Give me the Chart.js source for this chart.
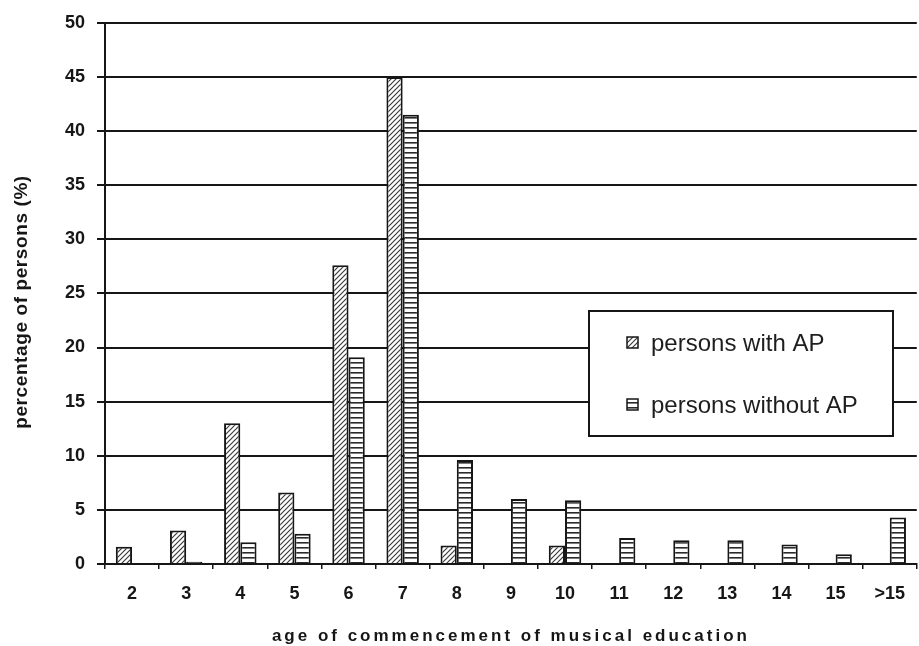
<!DOCTYPE html>
<html>
<head>
<meta charset="utf-8">
<script src="https://cdn.jsdelivr.net/npm/chart.js@4.4.1/dist/chart.umd.min.js"></script>
<style>
    html, body { margin: 0; padding: 0; background: #fff; }
    #wrap { width: 919px; height: 646px; position: relative; }
</style>
</head>
<body>
<div id="wrap"><canvas id="chart"></canvas></div>
<script>
/* AP study: age when musical education started */

const AGES = ["2", "3", "4", "5", "6", "7", "8", "9", "10", "11", "12", "13", "14", "15", ">15"];
const WITH_AP = [1.6, 3.1, 13.0, 6.6, 27.6, 45.0, 1.7, 0, 1.7, 0, 0, 0, 0, 0, 0];
const WITHOUT_AP = [0, 0.2, 2.0, 2.8, 19.1, 41.5, 9.6, 6.0, 5.9, 2.4, 2.2, 2.2, 1.8, 0.9, 4.3];
const Y_TICKS = [0, 5, 10, 15, 20, 25, 30, 35, 40, 45, 50];
const SERIES_NAMES = ["persons with AP", "persons without AP"];
const X_TITLE = "age of commencement of musical education";
const Y_TITLE = "percentage of persons (%)";

const INK = "#161616";
const FONT = "Arial, 'Liberation Sans', sans-serif";

function diagonalPattern() {
    const c = document.createElement("canvas");
    c.width = 5; c.height = 5;
    const g = c.getContext("2d");
    g.fillStyle = "#fff";
    g.fillRect(0, 0, 5, 5);
    g.strokeStyle = "#3c3c3c";
    g.lineWidth = 1.2;
    g.beginPath();
    g.moveTo(-1, 6); g.lineTo(6, -1);
    g.moveTo(-1, 1); g.lineTo(1, -1);
    g.moveTo(4, 6); g.lineTo(6, 4);
    g.stroke();
    return g.createPattern(c, "repeat");
}

function stripePattern() {
    const c = document.createElement("canvas");
    c.width = 6; c.height = 5;
    const g = c.getContext("2d");
    g.fillStyle = "#fff";
    g.fillRect(0, 0, 6, 5);
    g.fillStyle = "#2a2a2a";
    g.fillRect(0, 2, 6, 1.6);
    return g.createPattern(c, "repeat");
}

const FILLS = [diagonalPattern(), stripePattern()];

const boxLegend = {
    id: "boxLegend",
    afterDraw(chart) {
        const ctx = chart.ctx;
        const area = chart.chartArea;
        ctx.save();
        // legend frame
        ctx.fillStyle = "#fff";
        ctx.fillRect(589, 311, 304, 125);
        ctx.strokeStyle = INK;
        ctx.lineWidth = 2;
        ctx.strokeRect(589, 311, 304, 125);
        const rows = [343, 405];
        chart.data.datasets.forEach(function(ds, i) {
            const y = rows[i];
            ctx.fillStyle = ds.backgroundColor;
            ctx.fillRect(627, y - 6, 11, 11);
            ctx.lineWidth = 1.5;
            ctx.strokeStyle = INK;
            ctx.strokeRect(627, y - 6, 11, 11);
            ctx.fillStyle = "#1e1e1e";
            ctx.font = "24px " + FONT;
            ctx.textBaseline = "middle";
            ctx.textAlign = "left";
            ctx.fillText(ds.label, 651, y + 1);
        });
        // axis titles, spaced out like the original
        ctx.fillStyle = INK;
        ctx.textAlign = "center";
        ctx.textBaseline = "middle";
        ctx.font = "bold 17px " + FONT;
        ctx.letterSpacing = "3px";
        ctx.fillText(X_TITLE, (area.left + area.right) / 2, 636);
        ctx.translate(22, 302);
        ctx.rotate(-Math.PI / 2);
        ctx.font = "bold 19px " + FONT;
        ctx.letterSpacing = "0.6px";
        ctx.fillText(Y_TITLE, 0, 0);
        ctx.restore();
    }
};

new Chart(document.getElementById("chart"), {
    type: "bar",
    data: {
        labels: AGES,
        datasets: [
            { label: SERIES_NAMES[0], data: WITH_AP, backgroundColor: FILLS[0] },
            { label: SERIES_NAMES[1], data: WITHOUT_AP, backgroundColor: FILLS[1] }
        ]
    },
    options: {
        responsive: true,
        maintainAspectRatio: false,
        animation: false,
        events: [],
        layout: { padding: { top: 22, right: 0, left: 0, bottom: 0 } },
        datasets: {
            bar: {
                categoryPercentage: 0.6,
                barPercentage: 1.0,
                borderColor: INK,
                borderWidth: 2
            }
        },
        plugins: {
            legend: { display: false },
            tooltip: { enabled: false }
        },
        scales: {
            x: {
                grid: {
                    display: true,
                    offset: true,
                    drawOnChartArea: false,
                    tickLength: 5,
                    color: INK,
                    lineWidth: 1.5
                },
                border: { display: true, color: INK, width: 2 },
                ticks: {
                    color: INK,
                    padding: 14,
                    maxRotation: 0,
                    autoSkip: false,
                    font: { family: FONT, size: 18, weight: "bold" }
                },
                afterFit(scale) { scale.height = 82; }
            },
            y: {
                min: 0,
                max: 50,
                afterBuildTicks(scale) { scale.ticks = Y_TICKS.map(function(v) { return { value: v }; }); },
                grid: { color: INK, lineWidth: 2, tickLength: 8 },
                border: { display: true, color: INK, width: 2 },
                ticks: {
                    color: INK,
                    padding: 12,
                    font: { family: FONT, size: 18, weight: "bold" }
                },
                afterFit(scale) { scale.width = 105; }
            }
        }
    },
    plugins: [boxLegend]
});
</script>
</body>
</html>
